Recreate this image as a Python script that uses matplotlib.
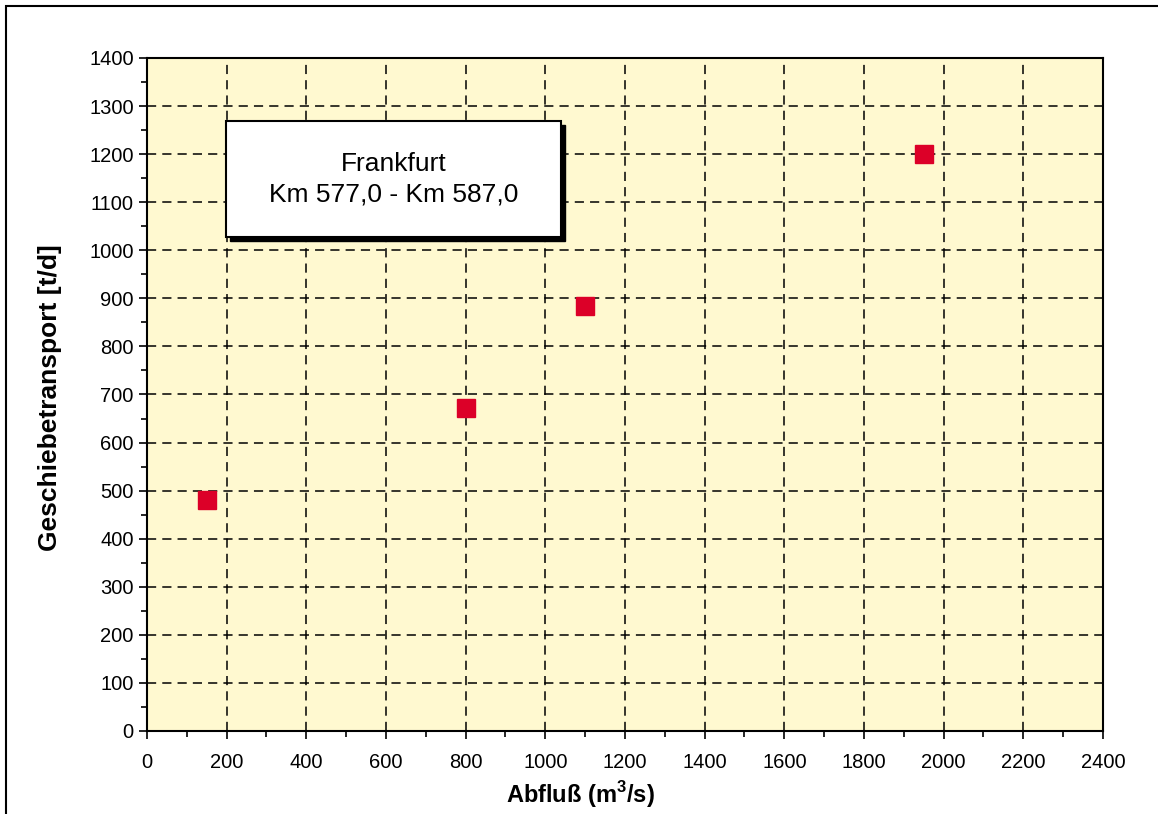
import matplotlib.pyplot as plt
from matplotlib.patches import Rectangle
from matplotlib.ticker import MultipleLocator

plt.rcParams["font.family"] = ["Liberation Sans", "DejaVu Sans"]
plt.rcParams["mathtext.fontset"] = "custom"
plt.rcParams["mathtext.bf"] = "Liberation Sans:bold"
plt.rcParams["mathtext.rm"] = "Liberation Sans"

abfluss = [150, 800, 1100, 1950]
geschiebe = [480, 672, 885, 1200]
box_text = "Frankfurt\nKm 577,0 - Km 587,0"


def main():
    fig = plt.figure(figsize=(11.58, 8.14), dpi=100)
    # Rahmen um die ganze Grafik (rechts und unten abgeschnitten)
    fig.patches.append(Rectangle((6 / 1158, -0.02), 1.05, 1.02 - 6 / 814,
                                 transform=fig.transFigure, fill=False,
                                 edgecolor="black", linewidth=1.5))

    ax = fig.add_axes([0.1269, 0.102, 0.8256, 0.8268])
    ax.set_facecolor("#fff9d0")
    ax.plot(abfluss, geschiebe, "s", color="#dc0028", markersize=13, zorder=5)

    ax.set_xlim(0, 2400)
    ax.set_ylim(0, 1400)
    ax.xaxis.set_major_locator(MultipleLocator(200))
    ax.xaxis.set_minor_locator(MultipleLocator(100))
    ax.yaxis.set_major_locator(MultipleLocator(100))
    ax.yaxis.set_minor_locator(MultipleLocator(50))
    ax.tick_params(which="major", direction="out", length=6, width=1.2, labelsize=14.5)
    ax.tick_params(which="minor", direction="out", length=4, width=1.2)
    ax.tick_params(axis="x", pad=10)
    ax.grid(True, which="major", color="black", linestyle=(0, (6, 4)), linewidth=1.1)
    for s in ax.spines.values():
        s.set_linewidth(1.5)

    ax.set_xlabel("Abfluß (m$^\\mathbf{3}$/s)", fontsize=17, fontweight="bold")
    ax.set_ylabel("Geschiebetransport [t/d]", fontsize=19, fontweight="bold")
    ax.xaxis.set_label_coords(0.453, -0.072)
    ax.yaxis.set_label_coords(-0.089, 0.495)

    # Textbox mit Schatten
    ax.add_patch(Rectangle((0.0866, 0.728), 0.3504, 0.172, transform=ax.transAxes,
                           facecolor="black", edgecolor="black", zorder=6))
    ax.add_patch(Rectangle((0.0826, 0.734), 0.3504, 0.172, transform=ax.transAxes,
                           facecolor="white", edgecolor="black", linewidth=1.5, zorder=7))
    ax.text(0.0826 + 0.3504 / 2, 0.734 + 0.172 / 2, box_text, transform=ax.transAxes,
            ha="center", va="center", fontsize=19, linespacing=1.35, zorder=8)

    fig.savefig("out.png", dpi=100)


if __name__ == "__main__":
    main()
